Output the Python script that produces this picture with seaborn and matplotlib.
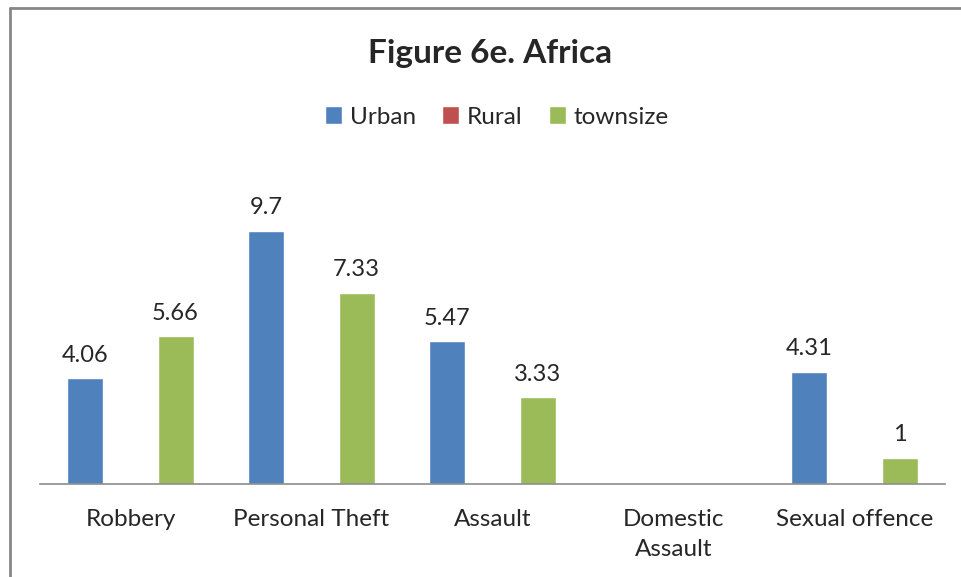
import numpy as np
import pandas as pd
import matplotlib.pyplot as plt
import seaborn as sns
from matplotlib.patches import Patch

# Values (Rural has no data, Domestic Assault is empty)
categories = ['Robbery', 'Personal Theft', 'Assault', 'Domestic\nAssault', 'Sexual offence']
series = ['Urban', 'Rural', 'townsize']
urban = [4.06, 9.7, 5.47, np.nan, 4.31]
rural = [np.nan, np.nan, np.nan, np.nan, np.nan]
townsize = [5.66, 7.33, 3.33, np.nan, 1]
colors = ['#4F81BD', '#C0504D', '#9BBB59']

df = pd.DataFrame({
    'category': categories * 3,
    'series': ['Urban'] * 5 + ['Rural'] * 5 + ['townsize'] * 5,
    'value': urban + rural + townsize,
})

sns.set_style('white')
plt.rcParams['font.family'] = ['Lato', 'DejaVu Sans']

fig = plt.figure(figsize=(9.61, 5.77), dpi=100)
ax = fig.add_axes([40 / 961, 93 / 577, 905 / 961, 313 / 577])

sns.barplot(data=df, x='category', y='value', hue='series', order=categories,
            hue_order=series, palette=colors, width=0.746, gap=0.2,
            saturation=1, ax=ax, legend=False)

ax.set_ylim(0, 12)
ax.set_xlim(-0.5, 4.5)
ax.set_yticks([])
ax.set_xlabel('')
ax.set_ylabel('')
for s in ['top', 'right', 'left']:
    ax.spines[s].set_visible(False)
ax.spines['bottom'].set_color('#8c8c8c')
ax.spines['bottom'].set_linewidth(1.2)
ax.tick_params(axis='x', length=0, pad=18, labelsize=17.5)
for t in ax.get_xticklabels():
    t.set_linespacing(1.5)

# Data labels
for c in ax.containers:
    labels = ['' if np.isnan(v) else f'{v:g}' for v in c.datavalues]
    ax.bar_label(c, labels=labels, padding=9, fontsize=17)

# Title and legend
fig.text(0.51, 1 - 53 / 577, 'Figure 6e. Africa', ha='center', va='center',
         fontsize=24, fontweight='bold')
handles = [Patch(facecolor=col, label=lab) for col, lab in zip(colors, series)]
fig.legend(handles=handles, loc='center', bbox_to_anchor=(0.517, 1 - 117 / 577),
           ncol=3, frameon=False, fontsize=17.5, handlelength=0.7, handleheight=0.7,
           handletextpad=0.3, columnspacing=1.1)

# Chart border (only left and top visible in the crop)
fig.add_artist(plt.Line2D([9.5 / 961, 9.5 / 961], [0, 1 - 7.5 / 577],
                          color='#868686', lw=2, transform=fig.transFigure))
fig.add_artist(plt.Line2D([9.5 / 961, 1], [1 - 7.5 / 577, 1 - 7.5 / 577],
                          color='#868686', lw=2, transform=fig.transFigure))

fig.savefig('out.png', dpi=100)
